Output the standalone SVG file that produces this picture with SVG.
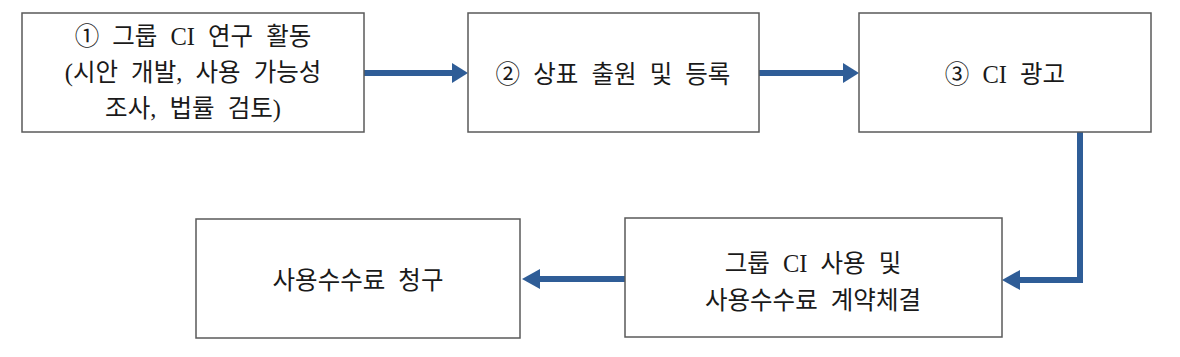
<svg xmlns="http://www.w3.org/2000/svg" width="1180" height="357" viewBox="0 0 1180 357">
<style>
.box{fill:#fff;stroke:#5a5a5a;stroke-width:1.5}
.t{font-family:"Liberation Serif","Noto Sans CJK KR",serif;font-size:24.5px;fill:#1a1a1a;text-anchor:middle;word-spacing:7px}
.c{fill:none;stroke:#2f5d97;stroke-width:6}
.h{fill:#2f5d97}
</style>
<rect width="1180" height="357" fill="#fff"/>
<g id="connectors">
<line class="c" x1="364" y1="73" x2="454" y2="73"/>
<polygon class="h" points="452,63 468,73 452,83"/>
<line class="c" x1="759" y1="73" x2="845" y2="73"/>
<polygon class="h" points="843,63 859,73 843,83"/>
<polyline class="c" points="1080,132 1080,280 1016,280"/>
<polygon class="h" points="1020,270 1002,280 1020,290"/>
<line class="c" x1="625" y1="279" x2="536" y2="279"/>
<polygon class="h" points="540,269 522,279 540,289"/>
</g>
<g id="n1">
<rect class="box" x="22" y="13" width="342" height="119"/>
<text class="t" x="193" y="45">① 그룹 CI 연구 활동</text>
<text class="t" x="193" y="81">(시안 개발, 사용 가능성</text>
<text class="t" x="193" y="117">조사, 법률 검토)</text>
</g>
<g id="n2">
<rect class="box" x="468" y="13" width="291" height="119"/>
<text class="t" x="613" y="83">② 상표 출원 및 등록</text>
</g>
<g id="n3">
<rect class="box" x="859" y="13" width="292" height="119"/>
<text class="t" x="1005" y="83">③ CI 광고</text>
</g>
<g id="n4">
<rect class="box" x="625" y="218" width="377" height="119"/>
<text class="t" x="813" y="272">그룹 CI 사용 및</text>
<text class="t" x="813" y="309">사용수수료 계약체결</text>
</g>
<g id="n5">
<rect class="box" x="196" y="219" width="324" height="119"/>
<text class="t" x="358" y="289">사용수수료 청구</text>
</g>
</svg>
